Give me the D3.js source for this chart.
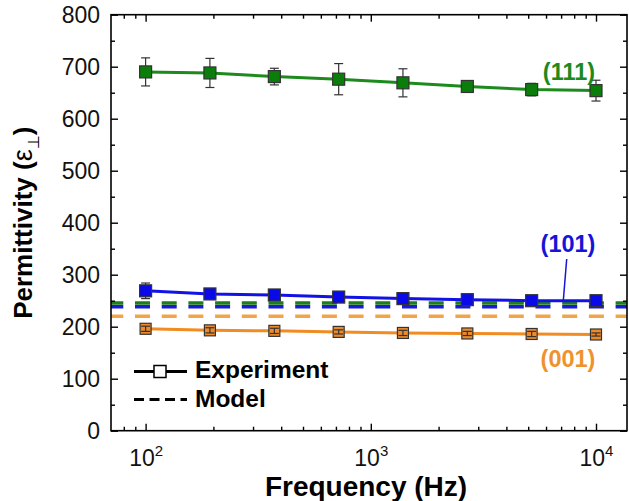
<!DOCTYPE html>
<html>
<head>
<meta charset="utf-8">
<script src="https://cdn.jsdelivr.net/npm/d3@7"></script>
<style>
  body { margin: 0; background: #fff; }
  svg { display: block; font-family: "Liberation Sans", Arial, sans-serif; }
</style>
</head>
<body>
<div id="chart"></div>
<script>
// data
const freq = [100, 193, 373, 720, 1389, 2683, 5179, 10000];
const eps111 = [690, 688, 681, 676, 669, 662, 656, 654];
const err111 = [27, 28, 16, 30, 27, 8, 12, 20];
const eps101 = [269, 263, 261, 257, 254, 252, 250, 250];
const err101 = [15, 5, 5, 5, 5, 5, 5, 5];
const eps001 = [196, 193, 192, 190, 188, 187, 186, 185];
const err001 = [5, 5, 5, 4, 5, 4, 5, 3];
const modelVals = { "111": 245.5, "101": 238.5, "001": 220 };
const yTicks = [0, 100, 200, 300, 400, 500, 600, 700, 800];
const yMinor = [50, 150, 250, 350, 450, 550, 650, 750];
const xTicks = [100, 1000, 10000];
const xMinor = [80, 90, 200, 300, 400, 500, 600, 700, 800, 900,
                2000, 3000, 4000, 5000, 6000, 7000, 8000, 9000];

const series = [
  { name: "001", vals: eps001, err: err001, line: "#f18c22", fill: "#ee8a2a", dash: "#f2a548", barsOnTop: true },
  { name: "101", vals: eps101, err: err101, line: "#1212e6", fill: "#0a0ae8", dash: "#1a1ad8", barsOnTop: false },
  { name: "111", vals: eps111, err: err111, line: "#1c8a1c", fill: "#0b7d0b", dash: "#1e7e1e", barsOnTop: false }
];

const W = 629, H = 501;
const m = { left: 111, right: 627, top: 14.7, bottom: 430.7 };

const svg = d3.select("#chart")
    .append("svg")
    .attr("width", W)
    .attr("height", H);

const x = d3.scaleLog().domain([70.2, 13730]).range([m.left, m.right]);
const y = d3.scaleLinear().domain([0, 800]).range([m.bottom, m.top]);

// model (dashed) lines, behind everything
["001", "101", "111"].forEach(k => {
  const s = series.find(d => d.name === k);
  svg.append("line")
      .attr("x1", m.left).attr("x2", m.right)
      .attr("y1", y(modelVals[k])).attr("y2", y(modelVals[k]))
      .attr("stroke", s.dash)
      .attr("stroke-width", 3.5)
      .attr("stroke-dasharray", "15 11.7")
      .attr("stroke-dashoffset", 2.7);
});

const line = d3.line()
    .x((d, i) => x(freq[i]))
    .y(d => y(d));

series.forEach(s => {
  const g = svg.append("g");
  g.append("path")
      .attr("d", line(s.vals))
      .attr("fill", "none")
      .attr("stroke", s.line)
      .attr("stroke-width", 3);

  const drawBars = () => {
    const eb = g.append("g")
        .attr("stroke", "#333")
        .attr("stroke-width", 1.2);
    s.vals.forEach((v, i) => {
      const cx = x(freq[i]);
      const y1 = y(v + s.err[i]), y2 = y(v - s.err[i]);
      eb.append("line").attr("x1", cx).attr("x2", cx).attr("y1", y1).attr("y2", y2);
      eb.append("line").attr("x1", cx - 4.5).attr("x2", cx + 4.5).attr("y1", y1).attr("y2", y1);
      eb.append("line").attr("x1", cx - 4.5).attr("x2", cx + 4.5).attr("y1", y2).attr("y2", y2);
    });
  };

  if (!s.barsOnTop) drawBars();

  const sz = s.name === "001" ? 11 : 12;
  g.selectAll("rect")
    .data(s.vals)
    .enter().append("rect")
      .attr("x", (d, i) => x(freq[i]) - sz / 2)
      .attr("y", d => y(d) - sz / 2)
      .attr("width", sz)
      .attr("height", sz)
      .attr("fill", s.fill)
      .attr("stroke", "#333")
      .attr("stroke-width", 1.2);

  if (s.barsOnTop) drawBars();
});

// frame
svg.append("rect")
    .attr("x", m.left).attr("y", m.top)
    .attr("width", m.right - m.left).attr("height", m.bottom - m.top)
    .attr("fill", "none")
    .attr("stroke", "#000")
    .attr("stroke-width", 1.6);

// axes with inward ticks
const tickStyle = g => {
  g.select(".domain").remove();
  g.selectAll("line").attr("stroke", "#000").attr("stroke-width", 1.4);
};

svg.append("g")
    .attr("transform", `translate(0,${m.bottom})`)
    .call(d3.axisBottom(x).tickValues(xMinor).tickSize(-4).tickFormat(""))
    .call(tickStyle);
svg.append("g")
    .attr("transform", `translate(0,${m.top})`)
    .call(d3.axisTop(x).tickValues(xMinor).tickSize(-4).tickFormat(""))
    .call(tickStyle);
svg.append("g")
    .attr("transform", `translate(0,${m.top})`)
    .call(d3.axisTop(x).tickValues(xTicks).tickSize(-7).tickFormat(""))
    .call(tickStyle);

const xAxis = svg.append("g")
    .attr("transform", `translate(0,${m.bottom})`)
    .call(d3.axisBottom(x).tickValues(xTicks).tickSize(-7).tickPadding(0).tickFormat(""))
    .call(tickStyle);

xAxis.selectAll(".tick text").remove();
xAxis.selectAll(".tick").each(function(d) {
  const t = d3.select(this).append("text")
      .attr("y", 35)
      .attr("text-anchor", "middle")
      .attr("fill", "#111")
      .style("font-size", "23px");
  t.append("tspan").text("10");
  t.append("tspan")
      .attr("dy", -10)
      .style("font-size", "15px")
      .text(Math.round(Math.log10(d)));
});

svg.append("g")
    .attr("transform", `translate(${m.left},0)`)
    .call(d3.axisLeft(y).tickValues(yMinor).tickSize(-4).tickFormat(""))
    .call(tickStyle);
svg.append("g")
    .attr("transform", `translate(${m.right},0)`)
    .call(d3.axisRight(y).tickValues(yMinor).tickSize(-4).tickFormat(""))
    .call(tickStyle);
svg.append("g")
    .attr("transform", `translate(${m.right},0)`)
    .call(d3.axisRight(y).tickValues(yTicks).tickSize(-7).tickFormat(""))
    .call(tickStyle);

const yAxis = svg.append("g")
    .attr("transform", `translate(${m.left},0)`)
    .call(d3.axisLeft(y).tickValues(yTicks).tickSize(-7).tickPadding(11))
    .call(tickStyle);
yAxis.selectAll("text")
    .attr("fill", "#111")
    .style("font-size", "23px")
    .attr("dy", "0.36em");

// axis titles
svg.append("text")
    .attr("x", (m.left + m.right) / 2 - 3)
    .attr("y", 496)
    .attr("text-anchor", "middle")
    .style("font-size", "28px")
    .style("font-weight", "bold")
    .attr("fill", "#000")
    .text("Frequency (Hz)");

const yl = svg.append("text")
    .attr("transform", `translate(32,${(m.top + m.bottom) / 2}) rotate(-90)`)
    .attr("text-anchor", "middle")
    .style("font-size", "26px")
    .style("font-weight", "bold")
    .attr("fill", "#000");
yl.append("tspan").text("Permittivity (");
yl.append("tspan").style("font-weight", "normal").style("font-size", "27px").text("ε");
yl.append("tspan").style("font-weight", "normal").style("font-size", "16px").attr("dy", 7).text("⊥");
yl.append("tspan").attr("dy", -7).text(")");

// series labels
const lab = [
  { t: "(111)", c: "#1c8a1c", x: 569, y: 80 },
  { t: "(101)", c: "#1515d8", x: 568, y: 252 },
  { t: "(001)", c: "#f0922c", x: 568, y: 367 }
];
lab.forEach(d => {
  svg.append("text")
      .attr("x", d.x).attr("y", d.y)
      .attr("text-anchor", "middle")
      .style("font-size", "23.5px")
      .style("font-weight", "bold")
      .attr("fill", d.c)
      .text(d.t);
});
svg.append("line")
    .attr("x1", 566.7).attr("y1", 259)
    .attr("x2", 563.3).attr("y2", y(eps101[6]))
    .attr("stroke", "#1515d8")
    .attr("stroke-width", 1.5);

// legend
const lg = svg.append("g");
lg.append("line")
    .attr("x1", 134).attr("x2", 187).attr("y1", 371.5).attr("y2", 371.5)
    .attr("stroke", "#000").attr("stroke-width", 3);
lg.append("rect")
    .attr("x", 154).attr("y", 365.5).attr("width", 12).attr("height", 12)
    .attr("fill", "#fff").attr("stroke", "#000").attr("stroke-width", 1.5);
lg.append("text")
    .attr("x", 195).attr("y", 378)
    .style("font-size", "24.5px").style("font-weight", "bold")
    .text("Experiment");
lg.append("line")
    .attr("x1", 134).attr("x2", 187).attr("y1", 399.5).attr("y2", 399.5)
    .attr("stroke", "#000").attr("stroke-width", 3)
    .attr("stroke-dasharray", "10 5.5");
lg.append("text")
    .attr("x", 195).attr("y", 407)
    .style("font-size", "24.5px").style("font-weight", "bold")
    .text("Model");
</script>
</body>
</html>
